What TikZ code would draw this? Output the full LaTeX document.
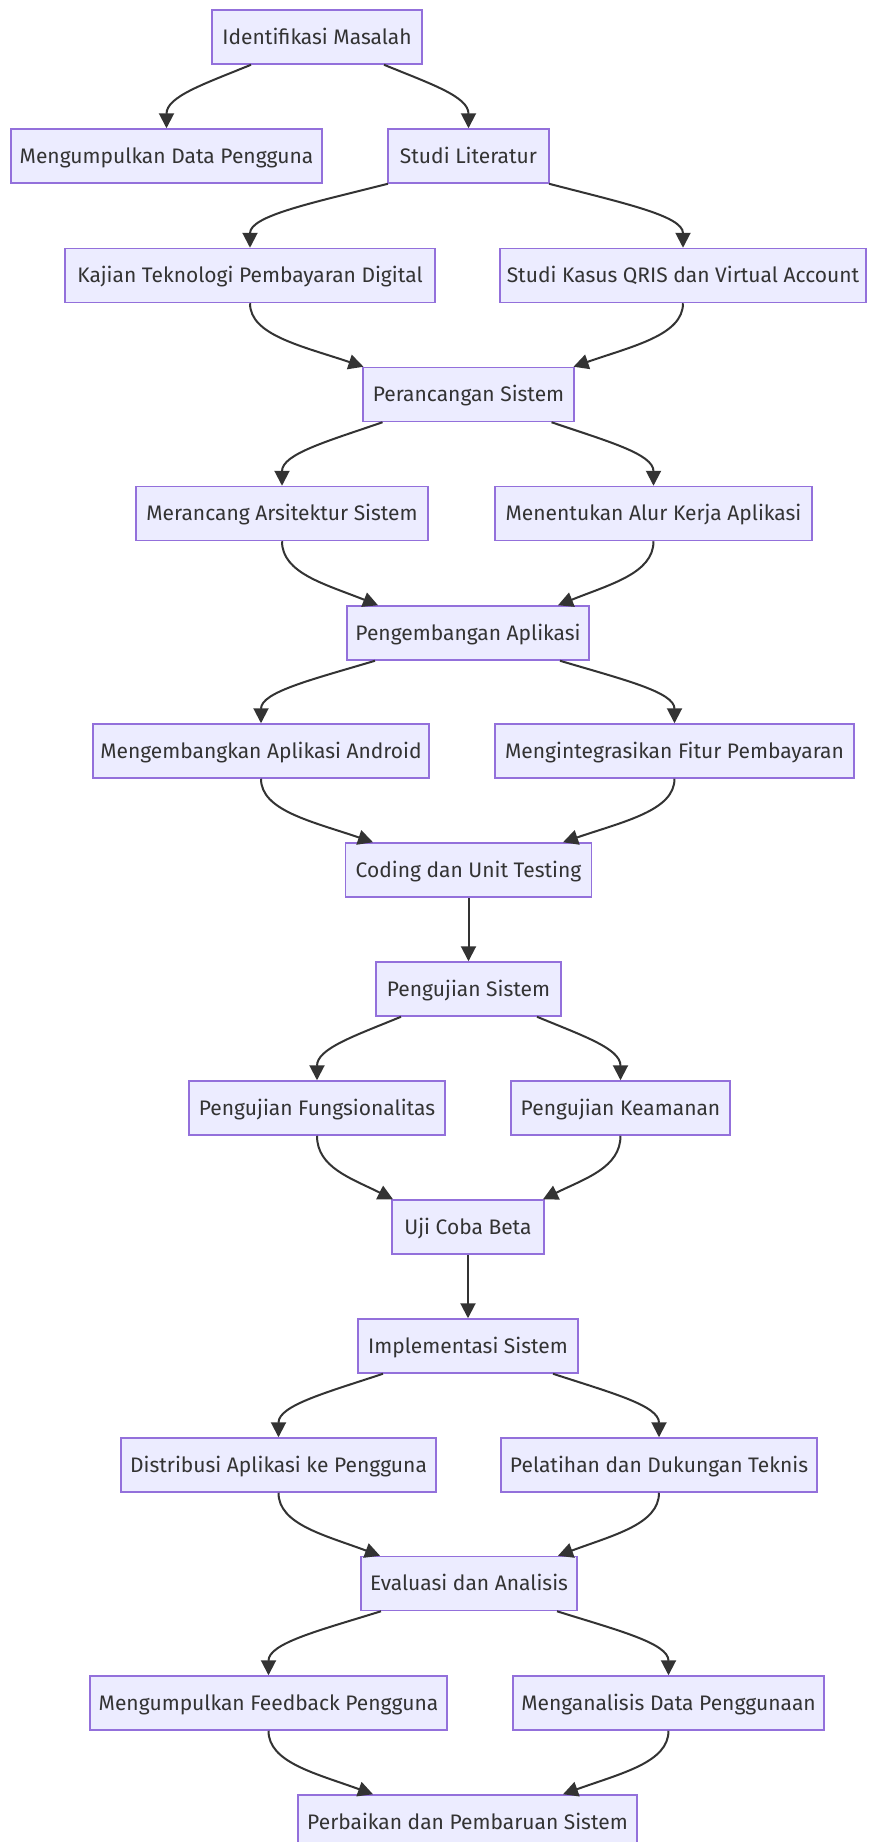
\documentclass[tikz,border=0pt]{standalone}
\usepackage{fontspec}
\setmainfont{Fira Sans}
\usetikzlibrary{arrows.meta,calc}
\definecolor{nodefill}{HTML}{ECECFF}
\definecolor{nodeline}{HTML}{9370DB}
\definecolor{ink}{HTML}{333333}
\newcommand{\splitedge}[3]{\draw[edge] let \p1=($(#1.south)+(#2,0)$), \p2=(#3.north) in (\p1) .. controls ({\x1+0.55*(\x2-\x1)},{\y1+0.3*(\y2-\y1)}) and (\x2,{\y2+0.5*(\y1-\y2)}) .. (\p2);}
\newcommand{\mergeedge}[3]{\draw[edge] let \p1=(#1.south), \p2=($(#3.north)+(#2,0)$) in (\p1) .. controls (\x1,{\y1+0.5*(\y2-\y1)}) and ({\x2-0.55*(\x2-\x1)},{\y2-0.33*(\y2-\y1)}) .. (\p2);}
\begin{document}
\begin{tikzpicture}[x=1pt,y=-1pt,
  box/.style={draw=nodeline, fill=nodefill, line width=1.5pt, minimum height=54pt, inner sep=0pt,
    text=ink, font=\fontsize{21}{25}\selectfont, text height=14.5pt, text depth=0pt},
  edge/.style={draw=ink, line width=2pt, -{Triangle[length=15pt,width=15pt]}}]
\fill[white] (0,0) rectangle (869,1842);
\useasboundingbox (0,0) rectangle (869,1842);
\node[box, minimum width=210pt] (A) at (317,37) {Identifikasi Masalah};
\node[box, minimum width=311pt] (B) at (166.5,156) {Mengumpulkan Data Pengguna};
\node[box, minimum width=161pt] (C) at (468.5,156) {Studi Literatur};
\node[box, minimum width=370pt] (D) at (250,275.5) {Kajian Teknologi Pembayaran Digital};
\node[box, minimum width=366pt] (E) at (683,275.5) {Studi Kasus QRIS dan Virtual Account};
\node[box, minimum width=211pt] (F) at (468.5,394.5) {Perancangan Sistem};
\node[box, minimum width=292pt] (G) at (282,513.5) {Merancang Arsitektur Sistem};
\node[box, minimum width=317pt] (H) at (653.5,513.5) {Menentukan Alur Kerja Aplikasi};
\node[box, minimum width=242pt] (I) at (468,633) {Pengembangan Aplikasi};
\node[box, minimum width=336pt] (J) at (261,751) {Mengembangkan Aplikasi Android};
\node[box, minimum width=359pt] (K) at (674.5,751) {Mengintegrasikan Fitur Pembayaran};
\node[box, minimum width=246pt] (L) at (468.5,870) {Coding dan Unit Testing};
\node[box, minimum width=185pt] (M) at (468.5,989) {Pengujian Sistem};
\node[box, minimum width=256pt] (N) at (317,1108) {Pengujian Fungsionalitas};
\node[box, minimum width=219pt] (O) at (620.5,1108) {Pengujian Keamanan};
\node[box, minimum width=152pt] (P) at (468,1227) {Uji Coba Beta};
\node[box, minimum width=220pt] (Q) at (468,1346) {Implementasi Sistem};
\node[box, minimum width=315pt] (R) at (278.5,1465) {Distribusi Aplikasi ke Pengguna};
\node[box, minimum width=316pt] (S) at (659,1465) {Pelatihan dan Dukungan Teknis};
\node[box, minimum width=216pt] (T) at (469,1583.5) {Evaluasi dan Analisis};
\node[box, minimum width=357pt] (U) at (268.5,1703) {Mengumpulkan Feedback Pengguna};
\node[box, minimum width=311pt] (V) at (668.5,1703) {Menganalisis Data Penggunaan};
\node[box, minimum width=339pt] (W) at (467.5,1822) {Perbaikan dan Pembaruan Sistem};
\splitedge{A}{-66}{B}
\splitedge{A}{67}{C}
\splitedge{C}{-80.5}{D}
\splitedge{C}{80.5}{E}
\mergeedge{D}{-105}{F}
\mergeedge{E}{105}{F}
\splitedge{F}{-86}{G}
\splitedge{F}{83}{H}
\mergeedge{G}{-90}{I}
\mergeedge{H}{90}{I}
\splitedge{I}{-93}{J}
\splitedge{I}{92}{K}
\mergeedge{J}{-95.5}{L}
\mergeedge{K}{94.5}{L}
\draw[edge] (L) -- (M);
\splitedge{M}{-67.5}{N}
\splitedge{M}{68.5}{O}
\mergeedge{N}{-75}{P}
\mergeedge{O}{75}{P}
\draw[edge] (P) -- (Q);
\splitedge{Q}{-85}{R}
\splitedge{Q}{85}{S}
\mergeedge{R}{-89}{T}
\mergeedge{S}{89}{T}
\splitedge{T}{-88}{U}
\splitedge{T}{88}{V}
\mergeedge{U}{-94.5}{W}
\mergeedge{V}{95.5}{W}
\end{tikzpicture}
\end{document}
